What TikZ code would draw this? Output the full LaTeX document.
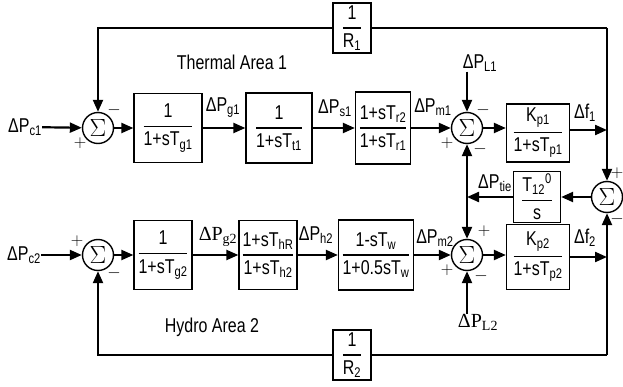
\documentclass[tikz,border=0pt]{standalone}
\usepackage{amsmath}
\usepackage{fontspec}
\setmainfont{Liberation Sans}[FakeStretch=0.8]
\newfontfamily\serifnum{Liberation Serif}
\usetikzlibrary{positioning, arrows.meta, calc}

\newcommand{\blockfrac}[2]{$\genfrac{}{}{1.3pt}{0}{\mbox{#1}}{\mbox{#2}}$}

\begin{document}
\begin{tikzpicture}[x=1pt, y=-1pt,
    block/.style={rectangle, draw, line width=1.3pt, inner sep=1pt, font=\fontsize{20}{22}\selectfont},
    sumnode/.style={circle, draw, line width=1.4pt, minimum size=31pt, inner sep=0pt, font=\fontsize{25}{26}\selectfont},
    lbl/.style={font=\fontsize{20}{22}\selectfont, inner sep=0pt},
    sgn/.style={font=\fontsize{18}{20}\selectfont, inner sep=0pt},
    sig/.style={line width=2.2pt},
    arr/.style={sig, -{Triangle[length=12pt, width=10pt]}},
  ]
    \useasboundingbox (0,0) rectangle (623,387);

    % thermal area 1
    \node[sumnode] (sum1) at (98,128) {$\Sigma$};
    \node[block, minimum width=68pt, minimum height=69pt] (gov1) at (168,128) {\blockfrac{1}{1+sT\textsubscript{g1}}};
    \node[block, minimum width=66pt, minimum height=70pt] (tur1) at (279,128) {\blockfrac{1}{1+sT\textsubscript{t1}}};
    \node[block, minimum width=55pt, minimum height=72pt] (reh1) at (383,128) {\blockfrac{1+sT\textsubscript{r2}}{1+sT\textsubscript{r1}}};
    \node[sumnode] (sum2) at (467,128) {$\Sigma$};
    \node[block, minimum width=63pt, minimum height=58pt] (pow1) at (538,133) {\blockfrac{K\textsubscript{p1}}{1+sT\textsubscript{p1}}};
    \node[block, minimum width=38pt, minimum height=50pt] (droop1) at (352,28) {\blockfrac{1}{R\textsubscript{1}}};

    % tie line
    \node[sumnode] (sum3) at (607,197) {$\Sigma$};
    \node[block, minimum width=47pt, minimum height=51pt] (tie) at (537,197) {\blockfrac{T\textsubscript{12}\textsuperscript{0}}{s}};

    % hydro area 2
    \node[sumnode] (sum4) at (98,255) {$\Sigma$};
    \node[block, minimum width=58pt, minimum height=69pt] (gov2) at (163,255) {\blockfrac{1}{1+sT\textsubscript{g2}}};
    \node[block, minimum width=58pt, minimum height=69pt] (hyd2) at (268,255) {\blockfrac{1+sT\textsubscript{hR}}{1+sT\textsubscript{h2}}};
    \node[block, minimum width=75pt, minimum height=70pt] (pen2) at (376,255) {\blockfrac{1-sT\textsubscript{w}}{1+0.5sT\textsubscript{w}}};
    \node[sumnode] (sum5) at (467,255) {$\Sigma$};
    \node[block, minimum width=63pt, minimum height=65pt] (pow2) at (538,257) {\blockfrac{K\textsubscript{p2}}{1+sT\textsubscript{p2}}};
    \node[block, minimum width=38pt, minimum height=50pt] (droop2) at (352,355) {\blockfrac{1}{R\textsubscript{2}}};

    % inputs and loads
    \node[lbl] (pc1) at (25,127) {ΔP\textsubscript{c1}};
    \node[lbl] (pc2) at (24,255) {ΔP\textsubscript{c2}};
    \node[lbl] (pl1) at (480,63) {ΔP\textsubscript{L1}};
    \node[lbl] (pl2) at (478,322) {\serifnum ΔP\textsubscript{L2}};

    \node[lbl] (title1) at (232,62) {Thermal Area 1};
    \node[lbl] (title2) at (212,327) {Hydro Area 2};

    % signal labels
    \node[lbl] (lg1) at (223,108) {ΔP\textsubscript{g1}};
    \node[lbl] (ls1) at (335,108) {ΔP\textsubscript{s1}};
    \node[lbl] (lm1) at (433,107) {ΔP\textsubscript{m1}};
    \node[lbl] (lf1) at (585,113) {Δf\textsubscript{1}};
    \node[lbl] (ltie) at (495,183) {ΔP\textsubscript{tie}};
    \node[lbl] (lg2) at (218,237) {\serifnum ΔP\textsubscript{g2}};
    \node[lbl] (lh2) at (316,235) {ΔP\textsubscript{h2}};
    \node[lbl] (lm2) at (435,238) {ΔP\textsubscript{m2}};
    \node[lbl] (lf2) at (585,238) {Δf\textsubscript{2}};

    % signs
    \node[sgn] (s1a) at (114,110) {$-$};
    \node[sgn] (s1b) at (80,143) {$+$};
    \node[sgn] (s2a) at (483,110) {$-$};
    \node[sgn] (s2b) at (447,143) {$+$};
    \node[sgn] (s2c) at (480,149) {$-$};
    \node[sgn] (s3a) at (617,173) {$+$};
    \node[sgn] (s3b) at (617,219) {$-$};
    \node[sgn] (s4a) at (77,241) {$+$};
    \node[sgn] (s4b) at (114,273) {$-$};
    \node[sgn] (s5a) at (484,231) {$+$};
    \node[sgn] (s5b) at (447,270) {$+$};
    \node[sgn] (s5c) at (481,276) {$-$};

    \coordinate (fbt) at (607,28);
    \coordinate (fbb) at (607,355);
    \coordinate (jf1) at (607,130);
    \coordinate (jf2) at (607,257);
    \coordinate (jt) at (467,197);

    \draw[arr] (pc1) -- (sum1);
    \draw[arr] (sum1) -- (gov1);
    \draw[arr] (gov1) -- (tur1);
    \draw[arr] (tur1) -- (reh1);
    \draw[arr] (reh1) -- (sum2);
    \draw[arr] (sum2) -- (sum2 -| pow1.west);
    \draw[arr] (pow1.east |- jf1) -- (jf1);

    \draw[arr] (pc2) -- (sum4);
    \draw[arr] (sum4) -- (gov2);
    \draw[arr] (gov2) -- (hyd2);
    \draw[arr] (hyd2) -- (pen2);
    \draw[arr] (pen2) -- (sum5);
    \draw[arr] (sum5) -- (sum5 -| pow2.west);
    \draw[arr] (pow2.east |- jf2) -- (jf2);

    \draw[arr] (fbt) -- (sum3);
    \draw[sig] (fbt) -- (droop1);
    \draw[arr] (droop1) -| (sum1);
    \draw[arr] (fbb) -- (sum3);
    \draw[sig] (fbb) -- (droop2);
    \draw[arr] (droop2) -| (sum4);

    \draw[arr] (sum3) -- (tie);
    \draw[arr] (tie) -- (jt);
    \draw[arr] (jt) -- (sum2);
    \draw[arr] (jt) -- (sum5);
    \draw[arr] (pl1.south -| sum2) -- (sum2);
    \draw[arr] (pl2.north -| sum5) -- (sum5);
\end{tikzpicture}
\end{document}
